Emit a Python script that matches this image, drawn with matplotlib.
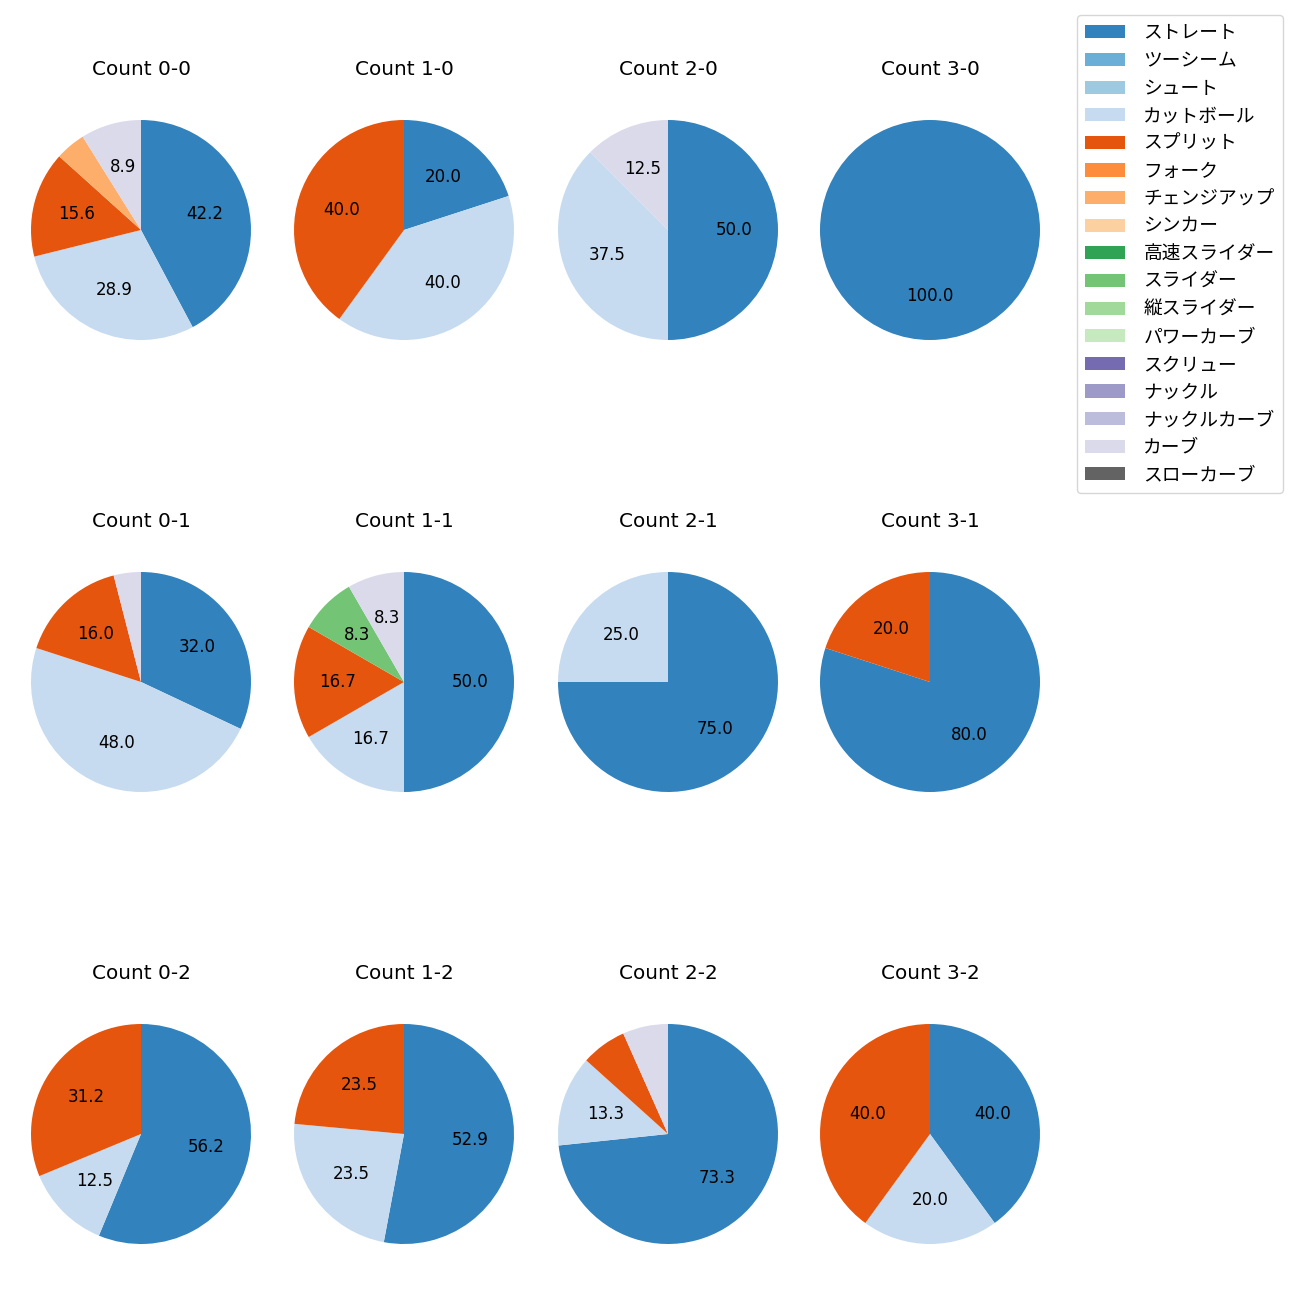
import matplotlib
matplotlib.use('Agg')
import matplotlib.pyplot as plt
from matplotlib.patches import Patch

plt.rcParams['font.family'] = ['DejaVu Sans', 'Noto Sans CJK JP']

# pitch types in legend order (tab20c colours)
pitch_types = ['ストレート', 'ツーシーム', 'シュート', 'カットボール', 'スプリット', 'フォーク',
               'チェンジアップ', 'シンカー', '高速スライダー', 'スライダー', '縦スライダー',
               'パワーカーブ', 'スクリュー', 'ナックル', 'ナックルカーブ', 'カーブ', 'スローカーブ']
cmap = plt.get_cmap('tab20c')
colors = {p: cmap(i) for i, p in enumerate(pitch_types)}

# pitch counts per ball-strike count
count_labels = ['0-0', '1-0', '2-0', '3-0',
                '0-1', '1-1', '2-1', '3-1',
                '0-2', '1-2', '2-2', '3-2']
pitches = {
    '0-0': {'ストレート': 19, 'カットボール': 13, 'スプリット': 7, 'チェンジアップ': 2, 'カーブ': 4},
    '1-0': {'ストレート': 1, 'カットボール': 2, 'スプリット': 2},
    '2-0': {'ストレート': 4, 'カットボール': 3, 'カーブ': 1},
    '3-0': {'ストレート': 1},
    '0-1': {'ストレート': 8, 'カットボール': 12, 'スプリット': 4, 'カーブ': 1},
    '1-1': {'ストレート': 6, 'カットボール': 2, 'スプリット': 2, 'スライダー': 1, 'カーブ': 1},
    '2-1': {'ストレート': 3, 'カットボール': 1},
    '3-1': {'ストレート': 4, 'スプリット': 1},
    '0-2': {'ストレート': 9, 'カットボール': 2, 'スプリット': 5},
    '1-2': {'ストレート': 9, 'カットボール': 4, 'スプリット': 4},
    '2-2': {'ストレート': 11, 'カットボール': 2, 'スプリット': 1, 'カーブ': 1},
    '3-2': {'ストレート': 2, 'カットボール': 1, 'スプリット': 2},
}

fig = plt.figure(figsize=(13, 13), dpi=100)
W = 1300.0
size = 275 / W
col_x = [141, 404, 668, 930]
row_y = [230, 682, 1134]

for i, c in enumerate(count_labels):
    r, k = divmod(i, 4)
    cx, cy = col_x[k] / W, 1 - row_y[r] / W
    ax = fig.add_axes([cx - size / 2, cy - size / 2, size, size])
    d = pitches[c]
    names = list(d.keys())
    vals = list(d.values())
    ax.pie(vals, colors=[colors[n] for n in names], startangle=90, counterclock=False,
           autopct=lambda p: f'{p:.1f}' if p > 7 else '',
           textprops={'fontsize': 12})
    ax.set_title(f'Count {c}', fontsize=14.4, pad=12.5)

handles = [Patch(facecolor=colors[p], label=p) for p in pitch_types]
fig.legend(handles=handles, loc='upper right', bbox_to_anchor=(1283 / W, 1 - 15 / W),
           borderaxespad=0, fontsize=13.5, handlelength=2.1, handletextpad=1.0,
           labelspacing=0.46, borderpad=0.45)

plt.savefig('out.png', dpi=100)
